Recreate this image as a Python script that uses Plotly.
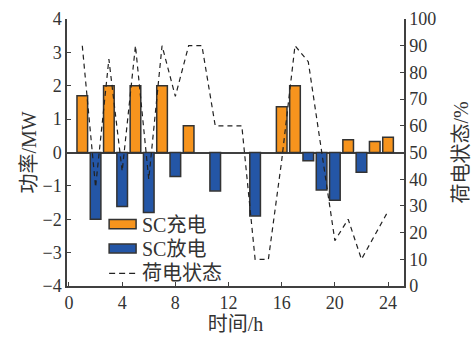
import plotly.graph_objects as go

# Hourly supercapacitor schedule
hours = list(range(1, 25))
charge_hours = [1, 3, 5, 7, 9, 16, 17, 21, 23, 24]
charge_mw = [1.70, 2.00, 2.00, 2.00, 0.80, 1.37, 2.00, 0.38, 0.33, 0.46]
discharge_hours = [2, 4, 6, 8, 11, 14, 18, 19, 20, 22]
discharge_mw = [-2.00, -1.62, -1.80, -0.72, -1.15, -1.90, -0.25, -1.12, -1.43, -0.59]
soc_pct = [90, 37, 85, 43, 90, 40, 90, 71, 90, 90, 60, 60,
           60, 10, 10, 47, 90, 84, 51, 17, 25, 10, 19, 28]

x_ticks = [0, 4, 8, 12, 16, 20, 24]
y_ticks = [-4, -3, -2, -1, 0, 1, 2, 3, 4]
y2_ticks = [0, 10, 20, 30, 40, 50, 60, 70, 80, 90, 100]

legend_names = ["SC充电", "SC放电", "荷电状态"]

ORANGE = "#F7941D"
BLUE = "#2456A6"
EDGE = "#333333"
AXIS = "#404040"
FONT = "Liberation Serif, Times New Roman, Noto Sans CJK SC, serif"

fig = go.Figure()
fig.add_trace(go.Bar(x=charge_hours, y=charge_mw, width=0.8, name=legend_names[0],
                     marker=dict(color=ORANGE, line=dict(color=EDGE, width=1.5))))
fig.add_trace(go.Bar(x=discharge_hours, y=discharge_mw, width=0.8, name=legend_names[1],
                     marker=dict(color=BLUE, line=dict(color=EDGE, width=1.5))))
fig.add_trace(go.Scatter(x=hours, y=soc_pct, yaxis="y2", mode="lines", name=legend_names[2],
                         line=dict(color="#222222", width=1.2, dash="5px,4px")))

axis_common = dict(showline=True, linecolor=AXIS, linewidth=1.5, ticks="inside",
                   ticklen=4, tickwidth=1.2, tickcolor=AXIS, showgrid=False,
                   automargin=False,
                   tickfont=dict(family=FONT, size=18, color="#333333"))

fig.update_layout(
    width=472, height=337,
    margin=dict(l=67, r=68, t=19, b=51),
    paper_bgcolor="white", plot_bgcolor="white",
    showlegend=False, barmode="overlay",
    font=dict(family=FONT, color="#333333"),
    xaxis=dict(range=[-0.15, 25.2], tickvals=x_ticks, zeroline=False,
               title=dict(text="时间/h", font=dict(family=FONT, size=20), standoff=5),
               **axis_common),
    yaxis=dict(range=[-4, 4], tickvals=y_ticks, zeroline=True, zerolinecolor=AXIS,
               zerolinewidth=1.5,
               title=dict(text="功率/MW", font=dict(family=FONT, size=20), standoff=0),
               **axis_common),
    yaxis2=dict(range=[0, 100], tickvals=y2_ticks, overlaying="y", side="right",
                zeroline=False,
                title=dict(text="荷电状态/%", font=dict(family=FONT, size=20), standoff=24),
                **axis_common),
)

# Legend drawn in the lower-left of the plot area
x0, x1 = 0.125, 0.205
box_rows = [(0.214, 0.249, ORANGE), (0.124, 0.157, BLUE)]
for (ya, yb, col) in box_rows:
    fig.add_shape(type="rect", xref="paper", yref="paper", x0=x0, x1=x1, y0=ya, y1=yb,
                  fillcolor=col, line=dict(color=EDGE, width=1.5))
fig.add_shape(type="line", xref="paper", yref="paper", x0=x0, x1=x1, y0=0.047, y1=0.047,
              line=dict(color="#222222", width=1.2, dash="6px,4px"))
for name, yc in zip(legend_names, [0.228, 0.138, 0.050]):
    fig.add_annotation(text=name, xref="paper", yref="paper", x=0.218, y=yc,
                       xanchor="left", yanchor="middle", showarrow=False,
                       font=dict(family=FONT, size=20, color="#333333"))

fig.write_html("out.html")
